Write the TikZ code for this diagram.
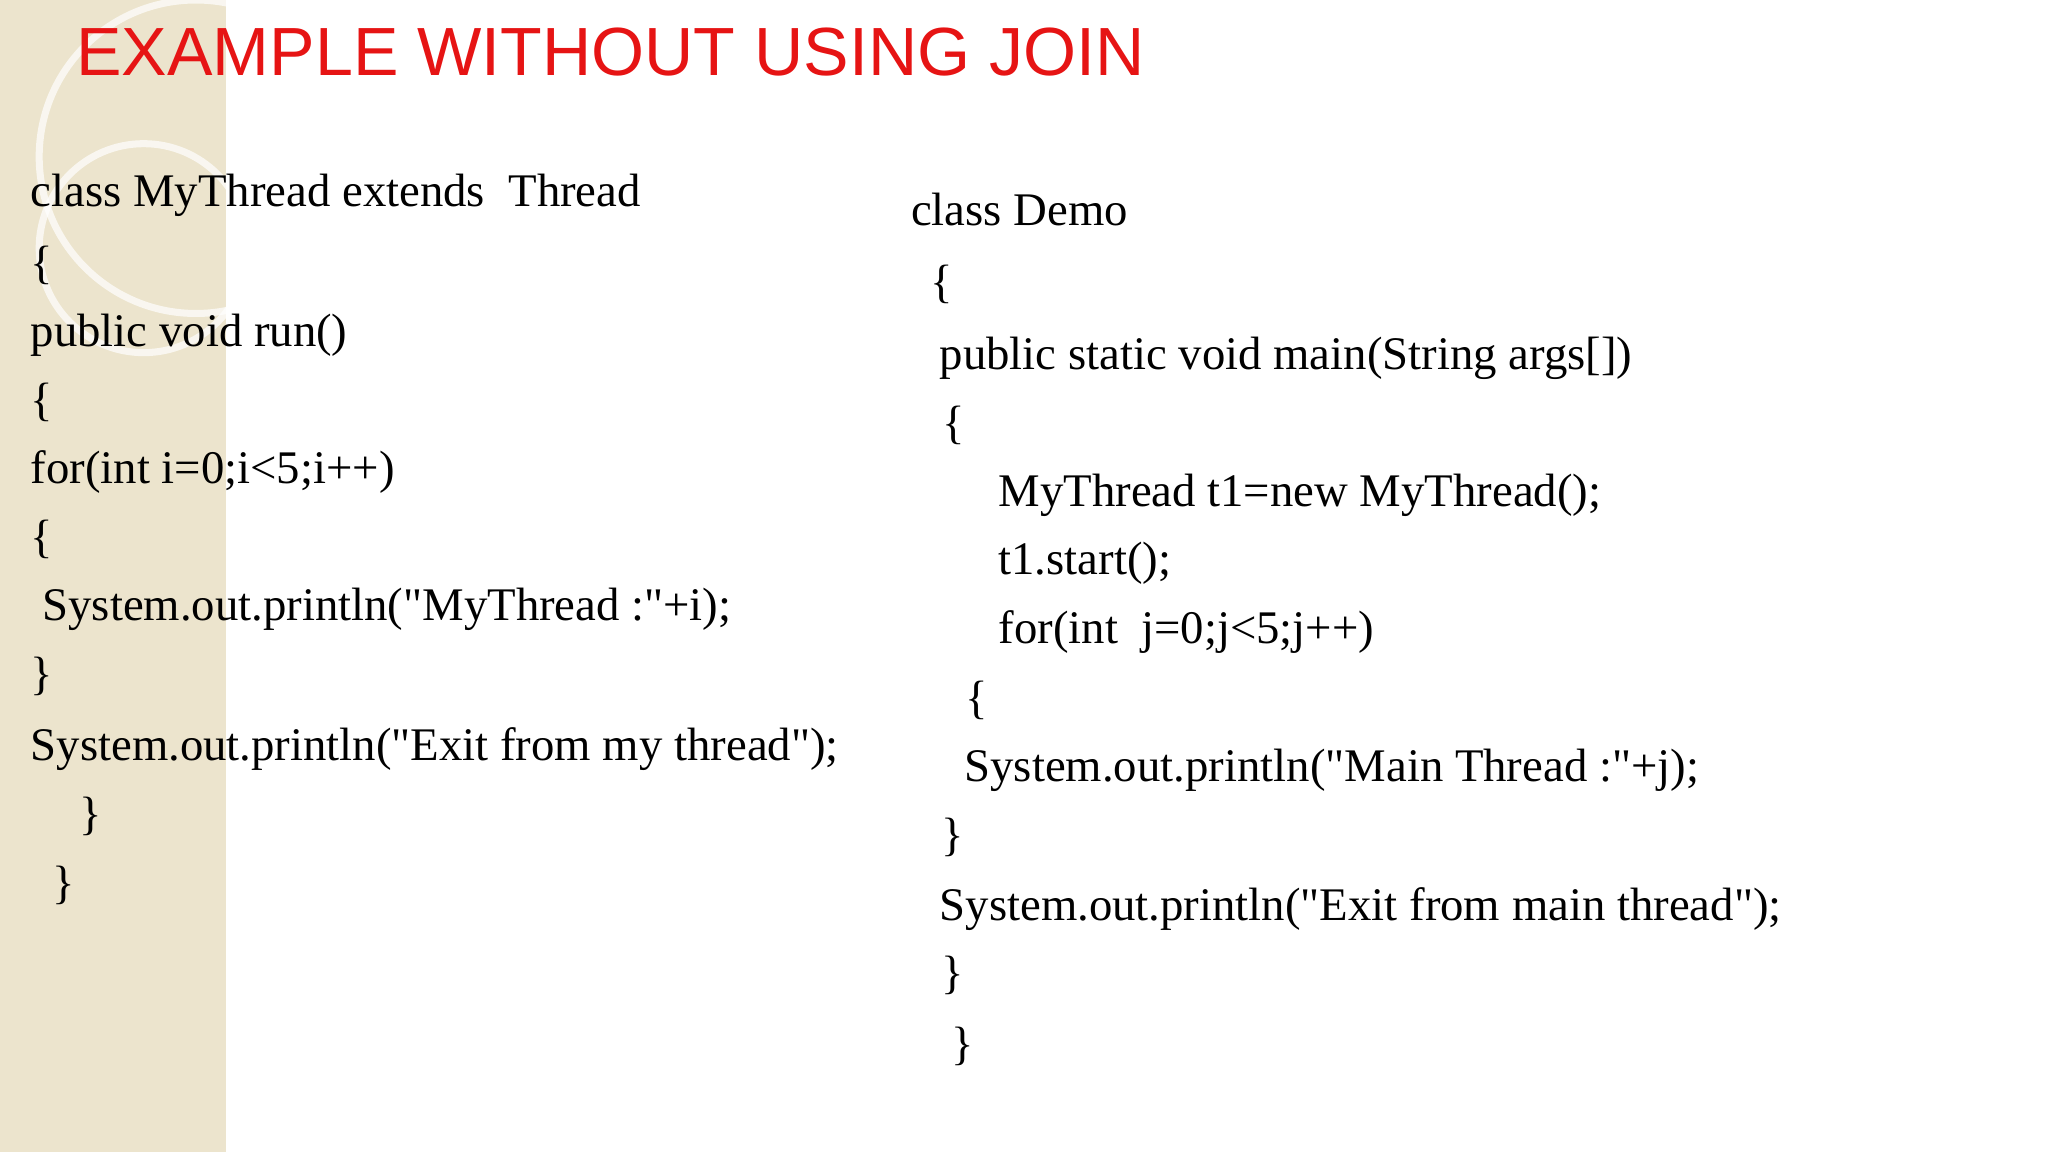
\documentclass[tikz,border=0pt]{standalone}
\usepackage{fontspec}
\setmainfont{Liberation Serif}[Ligatures=TeXOff]
\newfontfamily\titlefont{Liberation Sans}
\definecolor{strip}{RGB}{236,228,205}
\definecolor{titlered}{RGB}{230,20,20}
\tikzstyle{codeline} = [anchor=base west, inner sep=0pt, font=\fontsize{13.3}{16}\selectfont]
\tikzstyle{slidetitle} = [anchor=base west, inner sep=0pt, text=titlered,
    font=\titlefont\fontsize{19.4}{23}\selectfont]
\begin{document}
\begin{tikzpicture}[x=0.01306cm, y=-0.01306cm]
\useasboundingbox (0,0) rectangle (1568,882);
\fill[strip] (0,0) rectangle (173,882);
\draw[white, line width=2pt, opacity=0.7] (110,190) circle (80);
\draw[white, line width=2pt, opacity=0.7] (150,120) circle (120);

\node[slidetitle] (title) at (58,58) {EXAMPLE WITHOUT USING JOIN};

% left class
\node[codeline] (l1) at (23,158) {class MyThread extends\ \ Thread};
\node[codeline] (l2) at (23,213) {\{};
\node[codeline] (l3) at (23,265) {public void run()};
\node[codeline] (l4) at (23,318) {\{};
\node[codeline] (l5) at (23,370) {for(int i=0;i<5;i++)};
\node[codeline] (l6) at (23,423) {\{};
\node[codeline] (l7) at (32,475) {System.out.println("MyThread :"+i);};
\node[codeline] (l8) at (23,528) {\}};
\node[codeline] (l9) at (23,582) {System.out.println("Exit from my thread");};
\node[codeline] (l10) at (60,635) {\}};
\node[codeline] (l11) at (40,688) {\}};

% right class
\node[codeline] (r1) at (697,173) {class Demo};
\node[codeline] (r2) at (712,228) {\{};
\node[codeline] (r3) at (719,283) {public static void main(String args[])};
\node[codeline] (r4) at (721,336) {\{};
\node[codeline] (r5) at (764,388) {MyThread t1=new MyThread();};
\node[codeline] (r6) at (764,440) {t1.start();};
\node[codeline] (r7) at (764,493) {for(int\ \ j=0;j<5;j++)};
\node[codeline] (r8) at (739,546) {\{};
\node[codeline] (r9) at (738,598) {System.out.println("Main Thread :"+j);};
\node[codeline] (r10) at (720,651) {\}};
\node[codeline] (r11) at (719,705) {System.out.println("Exit from main thread");};
\node[codeline] (r12) at (720,757) {\}};
\node[codeline] (r13) at (728,811) {\}};
\end{tikzpicture}
\end{document}
